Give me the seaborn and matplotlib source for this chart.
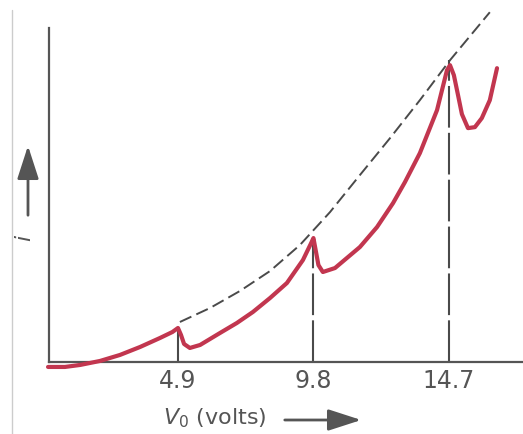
import numpy as np
import matplotlib
matplotlib.use("Agg")
import matplotlib.pyplot as plt
from matplotlib.lines import Line2D
from matplotlib.patches import FancyArrowPatch
import seaborn as sns
import pandas as pd

sns.set_style("white")
plt.rcParams['font.family'] = ['DejaVu Sans']

# Franck-Hertz curve (V0 in volts, current in arbitrary units)
curve_v = [0.20, 0.81, 1.36, 2.08, 2.80, 3.53, 4.25, 4.70, 4.90, 5.01, 5.12, 5.33, 5.70,
           6.42, 7.03, 7.61, 8.23, 8.84, 9.42, 9.70, 9.80, 9.88, 9.98, 10.14, 10.58,
           11.48, 12.10, 12.68, 13.11, 13.65, 14.27, 14.63, 14.74, 14.88, 15.03,
           15.17, 15.39, 15.64, 15.89, 16.18, 16.44]
curve_i = [-0.5, -0.5, -0.3, 0.1, 0.7, 1.5, 2.4, 3.0, 3.4, 2.7, 1.8, 1.4, 1.7,
           2.9, 3.9, 5.0, 6.4, 7.9, 10.2, 11.8, 12.4, 11.2, 9.7, 9.0, 9.4,
           11.5, 13.5, 15.9, 18.0, 20.9, 25.2, 29.2, 29.7, 28.7, 26.7,
           24.8, 23.4, 23.5, 24.4, 26.2, 29.4]

# dashed envelope through the peaks
env_v = [4.97, 6.06, 7.14, 8.23, 9.31, 10.40, 11.48, 12.57, 13.65, 14.74, 16.18]
env_i = [4.0, 5.4, 7.1, 9.1, 11.7, 15.0, 18.7, 22.4, 26.2, 30.2, 35.0]

# excitation peaks
peak_v = [4.9, 9.8, 14.7]
peak_top = [3.4, 12.4, 30.2]
tick_labels = ["4.9", "9.8", "14.7"]

df = pd.DataFrame({"V": curve_v, "i": curve_i})

fig = plt.figure(figsize=(5.23, 4.34), dpi=100)
ax = fig.add_axes([0.0937, 0.166, 0.9063, 0.769])

axis_col = "#555555"
dash_col = "#4a4a4a"

ax.vlines(peak_v, 0, peak_top, colors=dash_col, lw=1.5,
          linestyles=(0, (20, 2.5)), zorder=2)
ax.plot(env_v, env_i, color=dash_col, lw=1.4, ls=(0, (6.5, 2.8)),
        clip_on=False, zorder=2)
sns.lineplot(data=df, x="V", y="i", sort=False, color="#c2364f", lw=3,
             ax=ax, clip_on=False, zorder=3, solid_capstyle="round",
             solid_joinstyle="round")

ax.set_xlim(0.235, 17.38)
ax.set_ylim(0, 33.4)
ax.set_xticks(peak_v)
ax.set_xticklabels(tick_labels, fontsize=17, color=axis_col)
ax.set_yticks([])
ax.tick_params(axis="x", length=0, pad=5)
ax.set_xlabel("")
ax.set_ylabel("")

for side in ["top", "right"]:
    ax.spines[side].set_visible(False)
for side in ["left", "bottom"]:
    ax.spines[side].set_color(axis_col)
    ax.spines[side].set_linewidth(1.6)

arrow_style = "-|>,head_length=1.7,head_width=0.55"

# x label with arrow
fig.text(163 / 523, 1 - 418 / 434, "$V_0$ (volts)", fontsize=16,
         color=axis_col, ha="left", va="center")
fig.add_artist(FancyArrowPatch(
    (282 / 523, 1 - 420 / 434), (364 / 523, 1 - 420 / 434),
    transform=fig.transFigure, arrowstyle=arrow_style,
    mutation_scale=12, color=axis_col, lw=2))

# y label with arrow
fig.text(25 / 523, 1 - 238 / 434, "$i$", fontsize=16, rotation=90,
         color=axis_col, ha="center", va="center")
fig.add_artist(FancyArrowPatch(
    (28 / 523, 1 - 218 / 434), (28 / 523, 1 - 143 / 434),
    transform=fig.transFigure, arrowstyle=arrow_style,
    mutation_scale=12, color=axis_col, lw=2))

# page edge line on the left
fig.add_artist(Line2D([12 / 523, 12 / 523], [0, 1 - 10 / 434],
                      transform=fig.transFigure, color="#cccccc", lw=1))

fig.savefig("out.png", dpi=100)
